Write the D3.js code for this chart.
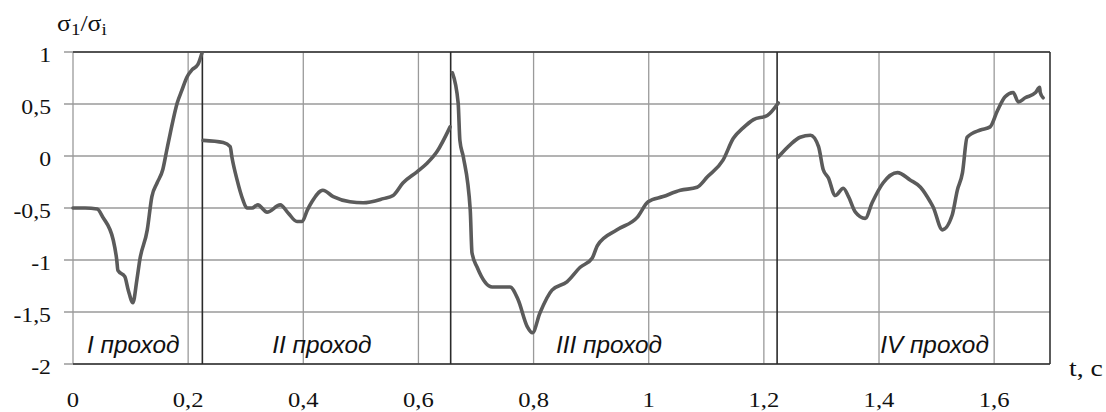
<!DOCTYPE html>
<html>
<head>
<meta charset="utf-8">
<script src="https://cdn.jsdelivr.net/npm/d3@7"></script>
<style>
  body { margin: 0; background: #fff; }
  svg { display: block; }
  .tick-label { font-family: "Liberation Serif", "Times New Roman", serif; font-size: 22px; fill: #111; }
  .pass-label { font-family: "Liberation Sans", Arial, sans-serif; font-style: italic; font-size: 23px; fill: #111; }
</style>
</head>
<body>
<svg id="chart" width="1106" height="412"></svg>
<script>
// axis ticks
var xTicks = [0, 0.2, 0.4, 0.6, 0.8, 1, 1.2, 1.4, 1.6];
var xTickLabels = ['0', '0,2', '0,4', '0,6', '0,8', '1', '1,2', '1,4', '1,6'];
var yTicks = [-2, -1.5, -1, -0.5, 0, 0.5, 1];
var yTickLabels = ['-2', '-1,5', '-1', '-0,5', '0', '0,5', '1'];

// pass boundaries (t, c) and labels
var passBounds = [0.2247, 0.656, 1.223];
var passNames = ['I проход', 'II проход', 'III проход', 'IV проход'];
var passLabelT = [0.0243, 0.346, 0.839, 1.402];

// sigma1/sigma_i per pass, [t, value]
var pass1 = [[0, -0.5], [0.021, -0.5], [0.042, -0.51], [0.052, -0.59], [0.070, -0.81], [0.076, -1.0],
  [0.078, -1.10], [0.090, -1.16], [0.096, -1.29], [0.104, -1.41], [0.111, -1.19], [0.116, -1.0],
  [0.129, -0.71], [0.137, -0.39], [0.146, -0.26], [0.156, -0.13], [0.163, 0.06], [0.169, 0.22],
  [0.181, 0.51], [0.189, 0.63], [0.198, 0.76], [0.207, 0.83], [0.217, 0.88], [0.224, 0.99]];
var pass2 = [[0.226, 0.15], [0.261, 0.13], [0.273, 0.09], [0.276, -0.01], [0.285, -0.23], [0.295, -0.42],
  [0.302, -0.50], [0.311, -0.50], [0.321, -0.47], [0.337, -0.54], [0.360, -0.47], [0.374, -0.55],
  [0.389, -0.63], [0.398, -0.63], [0.407, -0.52], [0.415, -0.44], [0.434, -0.33], [0.452, -0.39],
  [0.481, -0.44], [0.504, -0.45], [0.539, -0.41], [0.556, -0.38], [0.573, -0.26], [0.598, -0.15],
  [0.615, -0.07], [0.632, 0.04], [0.655, 0.28]];
var pass3 = [[0.659, 0.80], [0.669, 0.51], [0.672, 0.15], [0.678, -0.01], [0.690, -0.52], [0.693, -0.93],
  [0.702, -1.07], [0.728, -1.26], [0.759, -1.26], [0.773, -1.38], [0.789, -1.64], [0.798, -1.70],
  [0.811, -1.51], [0.832, -1.29], [0.858, -1.21], [0.881, -1.07], [0.902, -0.98], [0.911, -0.86],
  [0.945, -0.71], [0.980, -0.59], [0.999, -0.44], [1.025, -0.39], [1.055, -0.33], [1.084, -0.30],
  [1.102, -0.20], [1.129, -0.04], [1.147, 0.17], [1.164, 0.27], [1.182, 0.35], [1.206, 0.39], [1.225, 0.51]];
var pass4 = [[1.225, -0.01], [1.246, 0.11], [1.263, 0.18], [1.281, 0.20], [1.295, 0.09], [1.303, -0.13],
  [1.312, -0.21], [1.324, -0.38], [1.338, -0.31], [1.347, -0.39], [1.359, -0.54], [1.376, -0.60],
  [1.388, -0.45], [1.407, -0.26], [1.432, -0.16], [1.454, -0.23], [1.472, -0.30], [1.489, -0.44],
  [1.494, -0.49], [1.510, -0.71], [1.527, -0.57], [1.536, -0.33], [1.545, -0.16], [1.553, 0.18],
  [1.576, 0.25], [1.593, 0.28], [1.606, 0.44], [1.619, 0.57], [1.633, 0.61], [1.642, 0.52],
  [1.654, 0.56], [1.672, 0.61], [1.679, 0.66], [1.680, 0.61], [1.685, 0.56]];

var passes = [pass1, pass2, pass3, pass4];

var svg = d3.select('#chart');
var plotL = 73, plotR = 1050, plotT = 52, plotB = 364;

var x = d3.scaleLinear().domain([0, 1.697]).range([plotL, plotR]);
var y = d3.scaleLinear().domain([-2, 1]).range([plotB, plotT]);

// the scanned text is a bit wider than the fonts we have, stretch it
var stretch = function(px, py, sx) {
  return 'translate(' + px + ',' + py + ') scale(' + sx + ',1)';
};

// grid
var grid = svg.append('g');
grid.selectAll('line.vg').data(xTicks).enter().append('line')
  .attr('x1', function(d) { return x(d); }).attr('x2', function(d) { return x(d); })
  .attr('y1', plotT).attr('y2', plotB)
  .attr('stroke', '#9a9a9a').attr('stroke-width', 1.3);
grid.selectAll('line.hg').data(yTicks).enter().append('line')
  .attr('x1', plotL - 9).attr('x2', plotR)
  .attr('y1', function(d) { return y(d); }).attr('y2', function(d) { return y(d); })
  .attr('stroke', '#9a9a9a').attr('stroke-width', 1.3);

// frame: top, bottom, right dark
svg.append('line').attr('x1', plotL).attr('x2', plotR).attr('y1', y(1)).attr('y2', y(1))
  .attr('stroke', '#333').attr('stroke-width', 1.6);
svg.append('line').attr('x1', plotL).attr('x2', plotR).attr('y1', y(-2)).attr('y2', y(-2))
  .attr('stroke', '#333').attr('stroke-width', 1.6);
svg.append('line').attr('x1', plotR).attr('x2', plotR).attr('y1', plotT).attr('y2', plotB)
  .attr('stroke', '#333').attr('stroke-width', 1.6);

// pass boundaries
svg.selectAll('line.pb').data(passBounds).enter().append('line')
  .attr('x1', function(d) { return x(d); }).attr('x2', function(d) { return x(d); })
  .attr('y1', plotT).attr('y2', plotB)
  .attr('stroke', '#2a2a2a').attr('stroke-width', 1.6);

// tick labels
svg.selectAll('text.xl').data(xTicks).enter().append('text')
  .attr('class', 'tick-label')
  .attr('transform', function(d) { return stretch(x(d), 406.5, 1.12); })
  .attr('text-anchor', 'middle')
  .text(function(d, i) { return xTickLabels[i]; });
svg.selectAll('text.yl').data(yTicks).enter().append('text')
  .attr('class', 'tick-label')
  .attr('transform', function(d) { return stretch(51, y(d) + 9.5, 1.08); })
  .attr('text-anchor', 'end')
  .text(function(d, i) { return yTickLabels[i]; });

// axis titles
var yt = svg.append('text').attr('class', 'tick-label')
  .attr('transform', stretch(57, 31, 1.12)).style('font-size', '23px');
yt.append('tspan').text('σ');
yt.append('tspan').attr('dy', 4).style('font-size', '17px').text('1');
yt.append('tspan').attr('dy', -4).text('/σ');
yt.append('tspan').attr('dy', 4).style('font-size', '17px').text('i');
svg.append('text').attr('class', 'tick-label')
  .attr('transform', stretch(1069, 376, 1.15)).style('font-size', '24px').text('t, c');

// pass labels
svg.selectAll('text.pl').data(passNames).enter().append('text')
  .attr('class', 'pass-label')
  .attr('transform', function(d, i) { return stretch(x(passLabelT[i]), 353, 1.06); })
  .text(function(d) { return d; });

// curves
var line = d3.line().x(function(d) { return x(d[0]); }).y(function(d) { return y(d[1]); })
  .curve(d3.curveMonotoneX);
svg.selectAll('path.pass').data(passes).enter().append('path')
  .attr('d', line)
  .attr('fill', 'none')
  .attr('stroke', '#5b5b5b')
  .attr('stroke-width', 3.6)
  .attr('stroke-linejoin', 'round')
  .attr('stroke-linecap', 'round');
</script>
</body>
</html>
